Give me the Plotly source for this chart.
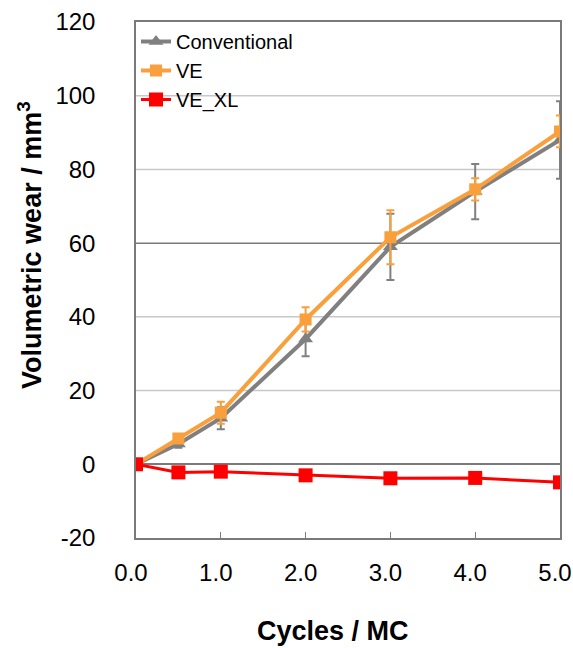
import plotly.graph_objects as go

cycles = [0, 0.5, 1, 2, 3, 4, 5]
conventional = [0, 5.5, 12.5, 34, 59, 74, 88]
conventional_err = [0, 1, 3, 4.7, 9, 7.5, 10.5]
ve = [0, 7, 14, 39.3, 61.6, 74.6, 90.3]
ve_err = [0, 1, 3, 3.3, 7.3, 3, 4.3]
ve_xl = [0, -2.2, -2, -3, -3.8, -3.7, -4.9]

xticks = [0, 1, 2, 3, 4, 5]
xticklabels = ["0.0", "1.0", "2.0", "3.0", "4.0", "5.0"]
yticks = [-20, 0, 20, 40, 60, 80, 100, 120]
yticklabels = ["-20", "0", "20", "40", "60", "80", "100", "120"]
dark_grid = [60]

FONT = "Liberation Sans, Arial, sans-serif"
GRAY = "#808080"
ORANGE = "#F9A03C"
RED = "#FF0000"
FRAME = "#7a7a7a"
LIGHT = "#c8c8c8"

fig = go.Figure()
fig.add_trace(go.Scatter(
    x=cycles, y=conventional, name="Conventional", mode="lines+markers",
    line=dict(color=GRAY, width=4),
    marker=dict(symbol="triangle-up", size=13, color=GRAY),
    error_y=dict(type="data", array=conventional_err, color=GRAY, thickness=2, width=4),
))
fig.add_trace(go.Scatter(
    x=cycles, y=ve, name="VE", mode="lines+markers",
    line=dict(color=ORANGE, width=4),
    marker=dict(symbol="square", size=12, color=ORANGE),
    error_y=dict(type="data", array=ve_err, color=ORANGE, thickness=2, width=4),
))
fig.add_trace(go.Scatter(
    x=cycles, y=ve_xl, name="VE_XL", mode="lines+markers",
    line=dict(color=RED, width=3),
    marker=dict(symbol="square", size=14, color=RED),
))

for yv in yticks:
    if yv in (-20, 0, 120):
        continue
    fig.add_shape(
        type="line", xref="paper", x0=0, x1=1, yref="y", y0=yv, y1=yv,
        line=dict(color=FRAME if yv in dark_grid else LIGHT, width=1.5),
        layer="below",
    )

fig.add_annotation(
    text="<b>Volumetric wear / mm<sup>3</sup></b>", textangle=-90,
    xref="paper", yref="paper", x=-0.25, y=0.568,
    xanchor="center", yanchor="middle", showarrow=False,
    font=dict(size=27, family=FONT, color="#000000"),
)
fig.add_annotation(
    text="<b>Cycles / MC</b>",
    xref="paper", yref="paper", x=0.465, y=-0.18,
    xanchor="center", yanchor="middle", showarrow=False,
    font=dict(size=27, family=FONT, color="#000000"),
)

fig.update_layout(
    width=573, height=648,
    margin=dict(l=136, r=13, t=22, b=110, autoexpand=False),
    plot_bgcolor="white", paper_bgcolor="white",
    font=dict(family=FONT, color="#000000"),
    legend=dict(
        x=0, y=1, xanchor="left", yanchor="top",
        bgcolor="rgba(0,0,0,0)", borderwidth=0,
        font=dict(size=20, family=FONT), tracegroupgap=0, itemwidth=30,
    ),
    showlegend=True,
)
fig.update_xaxes(
    range=[0, 5], tickvals=xticks, ticktext=xticklabels,
    showgrid=False, showline=True, linecolor=FRAME, linewidth=1.5, mirror=True,
    ticks="inside", ticklen=6, tickcolor=FRAME,
    tickfont=dict(size=24, family=FONT), zeroline=False, automargin=False,
    ticklabelstandoff=12, ticklabeloverflow="allow", ticklabelshift=-5,
)
fig.update_yaxes(
    range=[-20, 120], tickvals=yticks, ticktext=yticklabels,
    showgrid=False, automargin=False,
    showline=True, linecolor=FRAME, linewidth=1.5, mirror=True,
    zeroline=True, zerolinecolor=FRAME, zerolinewidth=1.5,
    tickfont=dict(size=24, family=FONT), ticks="",
    ticklabelstandoff=34,
)

fig.write_html("out.html")
